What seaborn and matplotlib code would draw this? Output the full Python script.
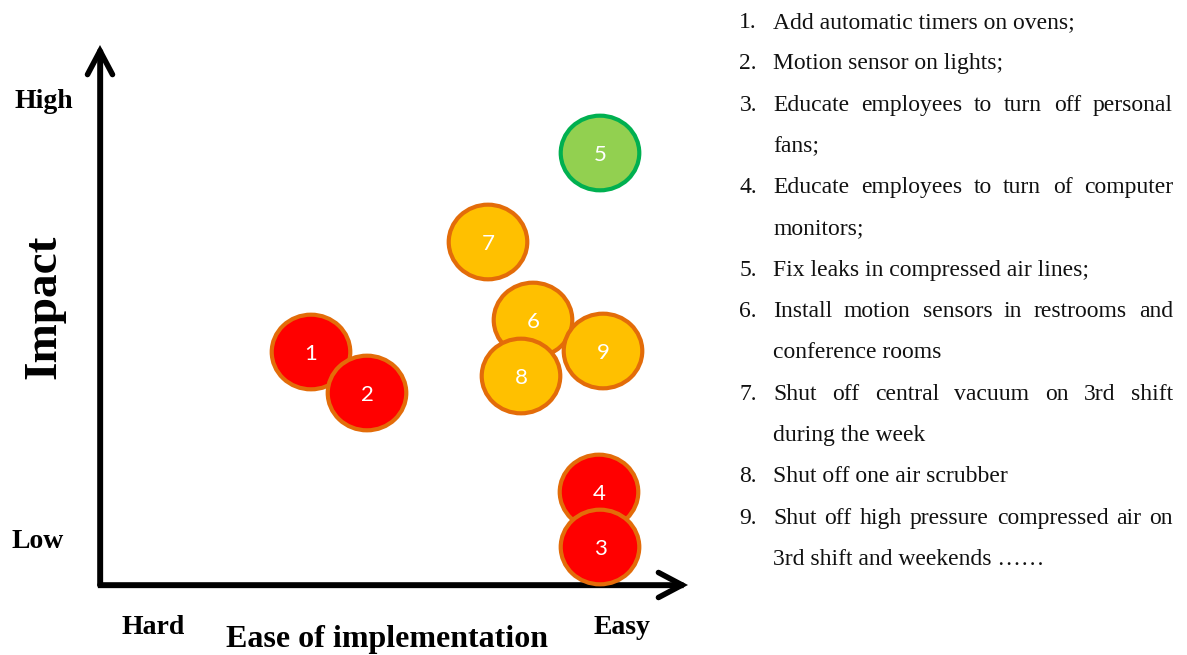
import matplotlib
matplotlib.use("Agg")
import matplotlib.pyplot as plt
import matplotlib.transforms as mtransforms
from matplotlib.path import Path
import seaborn as sns
import pandas as pd

# ---------------- data ----------------
ids = ["1", "2", "3", "4", "5", "6", "7", "8", "9"]
ease = [4.22, 5.34, 10.00, 9.98, 10.00, 8.66, 7.76, 8.42, 10.06]
impact = [4.66, 3.84, 0.76, 1.86, 8.64, 5.30, 6.86, 4.18, 4.68]
priority = ["red", "red", "red", "red", "green", "yellow", "yellow", "yellow", "yellow"]

fill_colors = {"red": "#FF0000", "yellow": "#FFC000", "green": "#92D050"}
edge_colors = {"red": "#E36C09", "yellow": "#E36C09", "green": "#00B050"}

y_label_high, y_label_low = "High", "Low"
x_label_hard, x_label_easy = "Hard", "Easy"
x_title = "Ease of implementation"
y_title = "Impact"

legend_items = [
    ("1.", ["Add automatic timers on ovens;"]),
    ("2.", ["Motion sensor on lights;"]),
    ("3.", ["Educate employees to turn off personal", "fans;"]),
    ("4.", ["Educate employees to turn of computer", "monitors;"]),
    ("5.", ["Fix leaks in compressed air lines;"]),
    ("6.", ["Install motion sensors in restrooms and", "conference rooms"]),
    ("7.", ["Shut off central vacuum on 3rd shift", "during the week"]),
    ("8.", ["Shut off one air scrubber"]),
    ("9.", ["Shut off high pressure compressed air on", "3rd shift and weekends \u2026\u2026"]),
]

df = pd.DataFrame({"id": ids, "ease": ease, "impact": impact, "priority": priority})
df = df.sort_values("impact", ascending=False).reset_index(drop=True)

# ---------------- figure ----------------
W, H = 1187, 655
sns.set_theme(style="white")
plt.rcParams["font.family"] = ["Liberation Serif", "DejaVu Serif"]
fig = plt.figure(figsize=(W / 100, H / 100), dpi=100)
fig.patch.set_facecolor("white")

ax = fig.add_axes([0, 0, 1, 1])
ax.set_xlim(-100 / 50, (W - 100) / 50)
ax.set_ylim((585 - H) / 50, 585 / 50)
ax.axis("off")

pix = mtransforms.Affine2D().scale(1 / W, -1 / H).translate(0, 1) + fig.transFigure

# axis arrows
x_end = (688 - 100) / 50
y_end = (585 - 45) / 50
ax.plot([0, 0, x_end - 0.1], [y_end - 0.1, 0, 0], color="black", lw=3.8,
        solid_joinstyle="miter", solid_capstyle="butt", zorder=2)
for xy in [(x_end, 0), (0, y_end)]:
    ax.annotate("", xy=xy, xytext=(0, 0),
                arrowprops=dict(arrowstyle="->, head_length=0.85, head_width=0.45",
                                lw=4.0, color="black", mutation_scale=20,
                                shrinkA=0, shrinkB=0, joinstyle="miter",
                                capstyle="round"),
                zorder=2)

marker_path = Path.unit_circle().transformed(mtransforms.Affine2D().scale(1.0, 0.95))

sns.scatterplot(data=df, x="ease", y="impact", hue="priority", palette=fill_colors,
                marker=marker_path, s=3200,
                edgecolor=[edge_colors[p] for p in df["priority"]],
                linewidth=3.0, legend=False, ax=ax, zorder=3)
for _, r in df.iterrows():
    ax.text(r["ease"], r["impact"] - 0.04, r["id"], color="white", ha="center", va="center",
            fontsize=16, family=["Lato", "DejaVu Sans"], zorder=4)

bold = dict(fontweight="bold", color="black", transform=pix, ha="center", va="center")
fig.text(44, 101, y_label_high, fontsize=20, **bold)
fig.text(38, 541, y_label_low, fontsize=20, **bold)
fig.text(153, 627, x_label_hard, fontsize=20, **bold)
fig.text(622, 627, x_label_easy, fontsize=20, **bold)
fig.text(387, 639, x_title, fontsize=23, **bold)
fig.text(44, 307, y_title, fontsize=34, rotation=90, **bold)

renderer = fig.canvas.get_renderer()
fs = 17
num_x, text_x0, text_x1 = 757, 773, 1173
baseline = 28
step = 41.3
line_no = 0
for num, lines in legend_items:
    y = baseline + step * line_no
    fig.text(num_x, y, num, fontsize=fs, ha="right", va="baseline", transform=pix,
             color="#111111")
    for i, line in enumerate(lines):
        y = baseline + step * line_no
        justify = (i < len(lines) - 1)
        if justify:
            words = line.split(" ")
            objs = [fig.text(0, y, w, fontsize=fs, ha="left", va="baseline",
                             transform=pix, color="#111111") for w in words]
            widths = [o.get_window_extent(renderer).width for o in objs]
            gap = (text_x1 - text_x0 - sum(widths)) / (len(words) - 1)
            x = text_x0
            for o, wdt in zip(objs, widths):
                o.set_x(x)
                x += wdt + gap
        else:
            fig.text(text_x0, y, line, fontsize=fs, ha="left", va="baseline",
                     transform=pix, color="#111111")
        line_no += 1

fig.savefig("out.png", dpi=100)
